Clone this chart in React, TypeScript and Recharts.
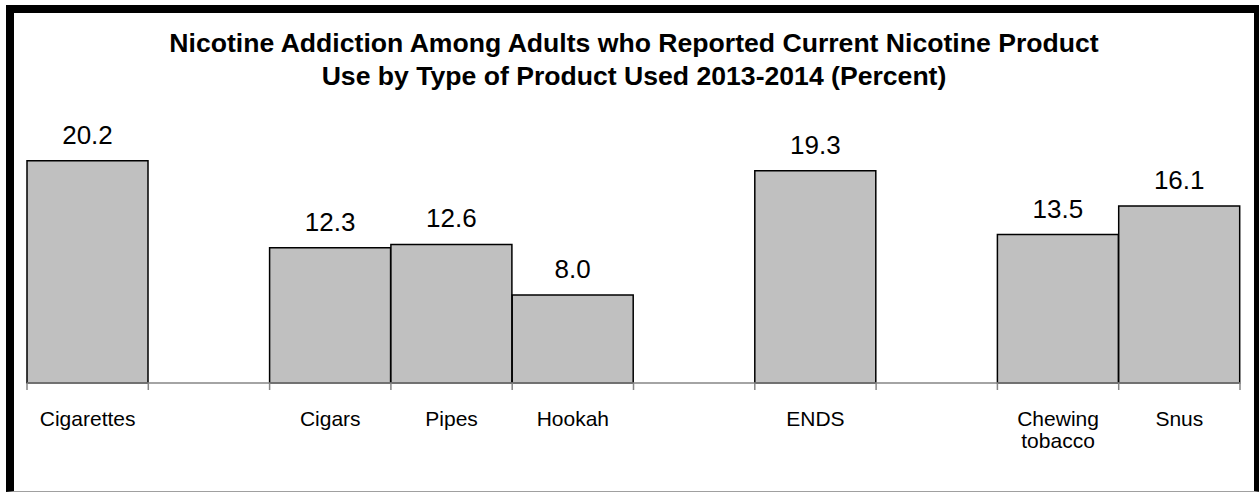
import React from 'react';
import { BarChart, Bar, XAxis, YAxis, LabelList } from 'recharts';

// empty strings are the blank slots between product groups
const categories = ['Cigarettes', '', 'Cigars', 'Pipes', 'Hookah', '', 'ENDS', '', 'Chewing\ntobacco', 'Snus'];
const percents: (number | null)[] = [20.2, null, 12.3, 12.6, 8.0, null, 19.3, null, 13.5, 16.1];
const titleLines = [
  'Nicotine Addiction Among Adults who Reported Current Nicotine Product',
  'Use by Type of Product Used 2013-2014 (Percent)',
];

const data = categories.map((name, i) => ({ id: i, name, value: percents[i] }));

const W = 1259;
const H = 493;
const PLOT_LEFT = 27;
const PLOT_RIGHT = 1240;
const FONT = '"Liberation Sans", Arial, sans-serif';
const AXIS_GRAY = '#868686';

const CategoryTick = (props: any) => {
  const { x, y, payload, index } = props;
  const band = (PLOT_RIGHT - PLOT_LEFT) / categories.length;
  const label = categories[payload.value] ?? '';
  const lines = label.split('\n');
  const last = index === categories.length - 1;
  return (
    <g>
      <line x1={x - band / 2} x2={x - band / 2} y1={y} y2={y + 7} stroke={AXIS_GRAY} strokeWidth={1.5} />
      {last && <line x1={x + band / 2} x2={x + band / 2} y1={y} y2={y + 7} stroke={AXIS_GRAY} strokeWidth={1.5} />}
      <text x={x} y={y + 43} textAnchor="middle" fontSize={21} fontFamily={FONT} fill="#000">
        {lines.map((l, i) => (
          <tspan key={i} x={x} dy={i === 0 ? 0 : 22}>{l}</tspan>
        ))}
      </text>
    </g>
  );
};

const App: React.FC = () => {
  return (
    <div style={{ position: 'fixed', left: 0, top: 0, width: W, height: H, background: '#fff', overflow: 'hidden' }}>
      <div
        style={{
          position: 'absolute',
          left: 6,
          top: 5,
          width: 1256,
          height: 487,
          boxSizing: 'border-box',
          borderTop: '8px solid #000',
          borderLeft: '8px solid #000',
          borderRight: '8px solid #000',
          borderBottom: '1px solid #a0a0a0',
        }}
      />
      <div
        style={{
          position: 'absolute',
          left: 0,
          top: 27,
          width: 1268,
          textAlign: 'center',
          fontFamily: FONT,
          fontWeight: 'bold',
          fontSize: 26.6,
          lineHeight: '33px',
          color: '#000',
        }}
      >
        {titleLines.map((t) => (
          <div key={t}>{t}</div>
        ))}
      </div>
      <div style={{ position: 'absolute', left: 0, top: 0 }}>
        <BarChart
          width={W}
          height={H}
          data={data}
          margin={{ top: 108, right: W - PLOT_RIGHT, left: PLOT_LEFT, bottom: 0 }}
          barCategoryGap={0}
          barGap={0}
        >
          <XAxis
            dataKey="id"
            type="category"
            height={110}
            tickLine={false}
            tickSize={0}
            tickMargin={0}
            axisLine={{ stroke: AXIS_GRAY, strokeWidth: 1.5 }}
            tick={<CategoryTick />}
            interval={0}
          />
          <YAxis hide domain={[0, 25]} />
          <Bar dataKey="value" fill="#c0c0c0" stroke="#000" strokeWidth={1.5} isAnimationActive={false}>
            <LabelList
              dataKey="value"
              position="top"
              offset={17}
              formatter={(v: any) => (v == null ? '' : Number(v).toFixed(1))}
              style={{ fontSize: 26, fontFamily: FONT, fill: '#000' }}
            />
          </Bar>
        </BarChart>
      </div>
    </div>
  );
};

export default App;
